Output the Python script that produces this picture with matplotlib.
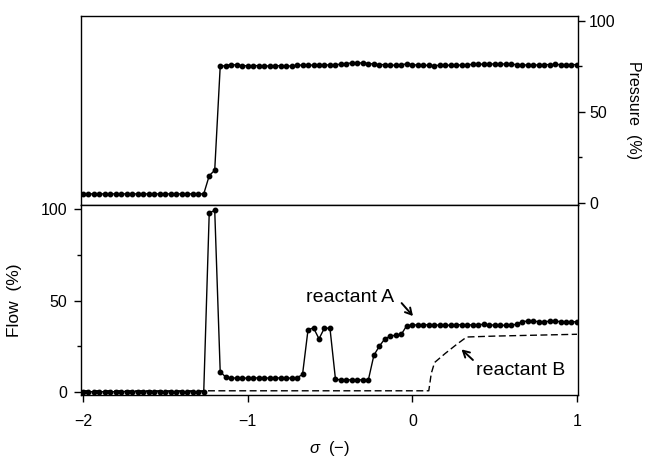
import numpy as np
import matplotlib
matplotlib.use("Agg")
import matplotlib.pyplot as plt
from matplotlib.ticker import MultipleLocator

plt.rcParams['font.family'] = ['Liberation Sans', 'DejaVu Sans']
plt.rcParams['mathtext.fontset'] = 'custom'
plt.rcParams['mathtext.it'] = 'Liberation Sans:italic'
plt.rcParams['mathtext.rm'] = 'Liberation Sans'

# ---- data ----
# sampling grid of the measurement, step 1/30 in sigma
sigma = np.linspace(-2.0, 1.0, 91)

pressure = ([5] * 23 + [15, 18, 75] +
            [75.5, 76, 75.8, 75.5, 75.3, 75.5, 75.4, 75.2, 75.3, 75.5, 75.3, 75.1, 75.3, 75.6, 75.8,
             75.6, 75.8, 76, 75.7, 75.9, 76, 76.2, 76.5, 77, 76.8, 77, 76.6, 76.3, 76, 76,
             75.8, 75.6, 75.8, 76.5, 76, 75.7, 75.6, 75.6, 75.5, 75.6, 75.6, 75.7, 75.6, 75.8, 76,
             76.1, 76.3, 76.2, 76.4, 76.3, 76.2, 76.4, 76.2, 76, 75.8, 75.8, 75.6, 75.9, 76, 76,
             76.1, 76, 76, 76, 76])

flow_a = ([0] * 23 + [98, 99.5, 11] +
          [8, 7.5, 7.5, 7.4, 7.5, 7.5, 7.6, 7.5, 7.5, 7.6, 7.5, 7.4, 7.5, 7.6] +
          [9.5, 34, 35, 29, 35, 34.7] +
          [6.8, 6.5, 6.5, 6.5, 6.5, 6.5, 6.6] +
          [20, 25, 29, 30.5, 31, 31.5, 36.3] +
          [36.5, 36.7, 36.8, 36.6, 36.5, 36.6, 36.4, 36.5, 36.6, 36.8,
           36.7, 36.6, 36.8, 36.9, 36.7, 36.5, 36.4, 36.4, 36.6, 36.9] +
          [38.5, 38.7, 38.6, 38.5, 38.3, 38.7, 38.6, 38.5, 38.4, 38.4, 38.3])

sigma_b = [-2.0, 0.10, 0.115, 0.135, 0.2, 0.27, 0.33, 0.5, 0.75, 1.0]
flow_b = [0.5, 0.5, 10, 16, 21, 26, 30, 30.5, 31, 31.5]

# ---- figure ----
fig = plt.figure(figsize=(6.46, 4.61), dpi=100)
ax_p = fig.add_axes([0.1254, 0.5553, 0.7693, 0.4100])
ax_f = fig.add_axes([0.1254, 0.1432, 0.7693, 0.4121], sharex=ax_p)

for ax in (ax_p, ax_f):
    for s in ax.spines.values():
        s.set_linewidth(1.0)

# pressure (top)
ax_p.plot(sigma, pressure, '-o', color='black', lw=1.0, ms=3.2)
ax_p.set_ylim(-1.1, 102.7)
ax_p.set_xlim(-2.012, 1.006)
ax_p.yaxis.tick_right()
ax_p.yaxis.set_label_position('right')
ax_p.set_yticks([0, 50, 100])
ax_p.yaxis.set_minor_locator(MultipleLocator(25))
ax_p.tick_params(axis='y', which='major', direction='out', length=5, width=1, labelsize=11.5, pad=3)
ax_p.tick_params(axis='y', which='minor', direction='out', length=3, width=1)
ax_p.tick_params(axis='x', which='both', bottom=False, top=False, labelbottom=False)
ax_p.set_ylabel('Pressure  (%)', rotation=270, fontsize=11.5, labelpad=18)

# flow (bottom)
ax_f.plot(sigma_b, flow_b, color='black', lw=1.0, dashes=(5, 2.5))
ax_f.plot(sigma, flow_a, '-o', color='black', lw=1.0, ms=3.2)
ax_f.set_ylim(-1.8, 102.4)
ax_f.set_yticks([0, 50, 100])
ax_f.yaxis.set_minor_locator(MultipleLocator(25))
ax_f.set_xticks([-2, -1, 0, 1])
ax_f.tick_params(axis='both', which='major', direction='out', length=5, width=1, labelsize=11.5)
ax_f.tick_params(axis='y', which='major', pad=5)
ax_f.tick_params(axis='x', which='major', pad=9)
ax_f.tick_params(axis='y', which='minor', direction='out', length=3, width=1)
ax_f.set_ylabel('Flow  (%)', fontsize=12.5, labelpad=13)
ax_f.set_xlabel(r'$\sigma$  (−)', fontsize=12, labelpad=7)

# labels and their arrows
arrow = dict(arrowstyle='->,head_length=0.45,head_width=0.25', color='black', lw=1.4,
             shrinkA=0, shrinkB=0)
ax_f.text(-0.38, 51.9, 'reactant A', ha='center', va='center', fontsize=14)
ax_f.annotate('', xy=(0.004, 41.5), xytext=(-0.065, 48.6), arrowprops=arrow)
ax_f.text(0.656, 11.9, 'reactant B', ha='center', va='center', fontsize=14)
ax_f.annotate('', xy=(0.299, 23.2), xytext=(0.368, 17.4), arrowprops=arrow)

fig.savefig('out.png', dpi=100)
